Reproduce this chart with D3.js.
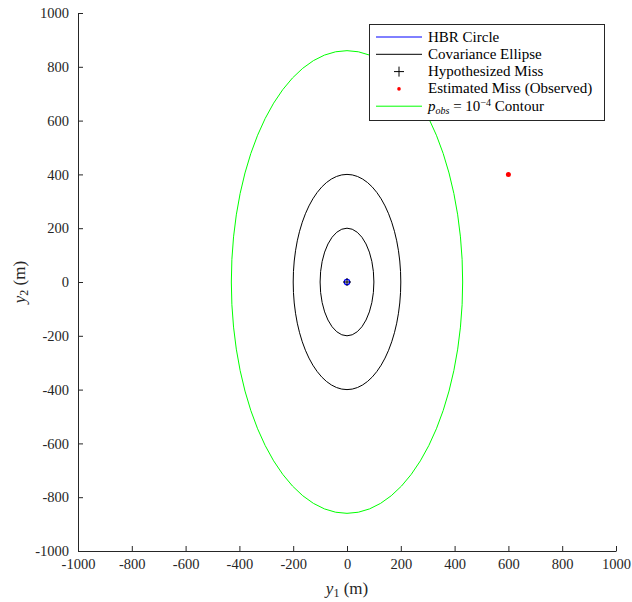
<!DOCTYPE html>
<html>
<head>
<meta charset="utf-8">
<script src="https://cdn.jsdelivr.net/npm/d3@7"></script>
<style>
body { margin: 0; background: #fff; }
text { font-family: "Liberation Serif", "DejaVu Serif", serif; }
</style>
</head>
<body>
<svg id="chart" width="632" height="602"></svg>
<script>
// Data
const xTicks = [-1000, -800, -600, -400, -200, 0, 200, 400, 600, 800, 1000];
const yTicks = [-1000, -800, -600, -400, -200, 0, 200, 400, 600, 800, 1000];
const hbrRadius = 10;                       // HBR circle radius (m)
const covEllipses = [ {rx: 100, ry: 200}, {rx: 200, ry: 400} ]; // 1σ and 2σ
const contour = {rx: 430, ry: 860};         // p_obs = 1e-4 contour
const hypothesized = [0, 0];
const estimated = [600, 400];
const legendItems = [
  {label: "HBR Circle", type: "line", color: "#0000ff"},
  {label: "Covariance Ellipse", type: "line", color: "#000000"},
  {label: "Hypothesized Miss", type: "plus", color: "#000000"},
  {label: "Estimated Miss (Observed)", type: "dot", color: "#ff0000"},
  {label: "pobs", type: "line", color: "#00ff00"}
];

const svg = d3.select("#chart");
const L = 78, R = 616, T = 13, B = 551;
const x = d3.scaleLinear().domain([-1000, 1000]).range([L, R]);
const y = d3.scaleLinear().domain([-1000, 1000]).range([B, T]);

// Axes
const xAxis = d3.axisBottom(x).tickValues(xTicks).tickSizeInner(-5).tickSizeOuter(0).tickPadding(8)
  .tickFormat(d => d < 0 ? "-" + Math.abs(d) : d);
const yAxis = d3.axisLeft(y).tickValues(yTicks).tickSizeInner(-5).tickSizeOuter(0).tickPadding(9)
  .tickFormat(d => d < 0 ? "-" + Math.abs(d) : d);

const gx = svg.append("g").attr("transform", `translate(0,${B})`).call(xAxis);
const gy = svg.append("g").attr("transform", `translate(${L},0)`).call(yAxis);
[gx, gy].forEach(g => {
  g.select(".domain").attr("stroke", "#262626");
  g.selectAll(".tick line").attr("stroke", "#262626");
  g.selectAll(".tick text").attr("fill", "#262626").style("font-size", "14.5px")
    .style("font-family", '"Liberation Serif", serif');
});

// Contour
svg.append("ellipse")
  .attr("cx", x(0)).attr("cy", y(0))
  .attr("rx", x(contour.rx) - x(0)).attr("ry", y(0) - y(contour.ry))
  .attr("fill", "none").attr("stroke", "#00ff00").attr("stroke-width", 1);

svg.selectAll(".cov").data(covEllipses).enter().append("ellipse")
  .attr("cx", x(0)).attr("cy", y(0))
  .attr("rx", d => x(d.rx) - x(0)).attr("ry", d => y(0) - y(d.ry))
  .attr("fill", "none").attr("stroke", "#000").attr("stroke-width", 1);

// HBR circle
svg.append("ellipse")
  .attr("cx", x(hypothesized[0])).attr("cy", y(hypothesized[1]))
  .attr("rx", x(hbrRadius) - x(0)).attr("ry", y(0) - y(hbrRadius))
  .attr("fill", "none").attr("stroke", "#0000ff").attr("stroke-width", 1.3);

// Hypothesized miss plus
const hx = x(hypothesized[0]), hy = y(hypothesized[1]);
svg.append("path").attr("d", `M${hx-4},${hy}H${hx+4}M${hx},${hy-4}V${hy+4}`)
  .attr("stroke", "#000").attr("stroke-width", 1);

// Estimated miss
svg.append("circle").attr("cx", x(estimated[0])).attr("cy", y(estimated[1])).attr("r", 2.5)
  .attr("fill", "#ff0000");

// Axis labels
const xl = svg.append("text").attr("x", 347).attr("y", 594).attr("text-anchor", "middle")
  .style("font-size", "17px").attr("fill", "#262626");
xl.append("tspan").attr("font-style", "italic").text("y");
xl.append("tspan").attr("dy", 3).style("font-size", "12px").text("1");
xl.append("tspan").attr("dy", -3).text(" (m)");

const yl = svg.append("text").attr("transform", `translate(25,282) rotate(-90)`).attr("text-anchor", "middle")
  .style("font-size", "17px").attr("fill", "#262626");
yl.append("tspan").attr("font-style", "italic").text("y");
yl.append("tspan").attr("dy", 3).style("font-size", "12px").text("2");
yl.append("tspan").attr("dy", -3).text(" (m)");

// Legend
const lg = svg.append("g");
lg.append("rect").attr("x", 369.5).attr("y", 24.5).attr("width", 235).attr("height", 96)
  .attr("fill", "#fff").attr("stroke", "#262626").attr("stroke-width", 1);
legendItems.forEach((d, i) => {
  const yy = 37 + i * 17.3;
  if (d.type === "line") {
    lg.append("line").attr("x1", 376).attr("x2", 422).attr("y1", yy).attr("y2", yy)
      .attr("stroke", d.color).attr("stroke-width", 1);
  } else if (d.type === "plus") {
    lg.append("path").attr("d", `M${399-5},${yy}H${399+5}M399,${yy-5}V${yy+5}`)
      .attr("stroke", d.color).attr("stroke-width", 1);
  } else {
    lg.append("circle").attr("cx", 399).attr("cy", yy).attr("r", 1.8).attr("fill", d.color);
  }
  const t = lg.append("text").attr("x", 428).attr("y", yy + 4.5).style("font-size", "15px").attr("fill", "#000");
  if (d.label === "pobs") {
    t.append("tspan").attr("font-style", "italic").text("p");
    t.append("tspan").attr("dy", 3).attr("font-style", "italic").style("font-size", "10px").text("obs");
    t.append("tspan").attr("dy", -3).text(" = 10");
    t.append("tspan").attr("dy", -5).style("font-size", "10px").text("\u22124");
    t.append("tspan").attr("dy", 5).text(" Contour");
  } else {
    t.text(d.label);
  }
});
</script>
</body>
</html>
